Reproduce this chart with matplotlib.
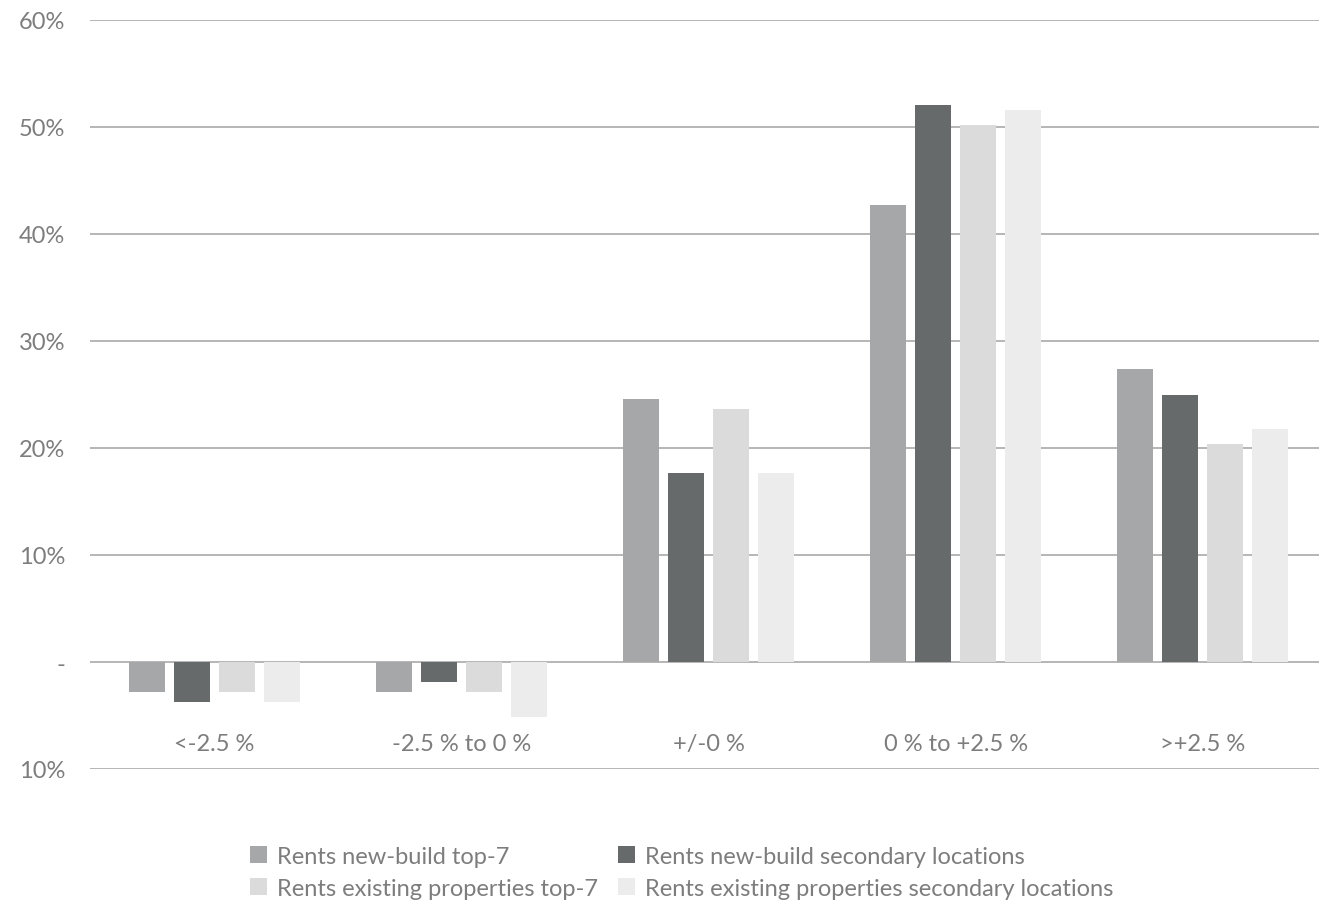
import matplotlib
matplotlib.use('Agg')
import matplotlib.pyplot as plt
import numpy as np

plt.rcParams['font.family'] = ['Lato', 'DejaVu Sans']

# data (percent of respondents)
categories = ['<-2.5 %', '-2.5 % to 0 %', '+/-0 %', '0 % to +2.5 %', '>+2.5 %']
series_names = ['Rents new-build top-7',
                'Rents new-build secondary locations',
                'Rents existing properties top-7',
                'Rents existing properties secondary locations']
new_top7 = [-2.8, -2.8, 24.6, 42.7, 27.4]
new_secondary = [-3.7, -1.9, 17.7, 52.1, 25.0]
exist_top7 = [-2.8, -2.8, 23.6, 50.2, 20.4]
exist_secondary = [-3.7, -5.1, 17.7, 51.6, 21.8]
ytick_vals = [-10, 0, 10, 20, 30, 40, 50, 60]
ytick_labels = ['10%', '-', '10%', '20%', '30%', '40%', '50%', '60%']

colors = ['#a6a7a8', '#666a6a', '#dbdbdb', '#ececec']
txt = '#7d7d7d'

fig = plt.figure(figsize=(13.19, 9.04), dpi=100)
ax = fig.add_axes([90/1319, 1 - 770/904, 1 - 90/1319, (770 - 21)/904])

x = np.arange(len(categories))
w = 0.146
step = 0.182
series = [new_top7, new_secondary, exist_top7, exist_secondary]
handles = []
for k, vals in enumerate(series):
    b = ax.bar(x + (k - 1.5) * step, vals, width=w, color=colors[k],
               label=series_names[k], zorder=3)
    handles.append(b)

ax.set_xlim(-0.502, 4.47)
ax.set_ylim(-10, 60)
ax.set_yticks(ytick_vals)
ax.set_yticklabels(ytick_labels)
ax.set_xticks([])
for s in ax.spines.values():
    s.set_visible(False)
ax.tick_params(axis='y', length=0, pad=18, labelsize=17, labelcolor=txt)
for v in ytick_vals:
    ax.axhline(v, color='#b0b0b0', lw=1.3, zorder=1)

for i, c in enumerate(categories):
    ax.text(i, -7.6, c, ha='center', va='center', fontsize=17, color=txt)

# legend filled row by row
order = [0, 2, 1, 3]
leg = fig.legend([handles[i] for i in order], [series_names[i] for i in order],
                 loc='upper left', bbox_to_anchor=(250/1319, 1 - 847/904),
                 ncol=2, frameon=False, fontsize=17, handlelength=0.7,
                 handleheight=0.7, handletextpad=0.45, columnspacing=0.85,
                 labelspacing=0.45, borderpad=0, borderaxespad=0)
for t in leg.get_texts():
    t.set_color(txt)

fig.savefig('out.png', dpi=100, facecolor='white')
